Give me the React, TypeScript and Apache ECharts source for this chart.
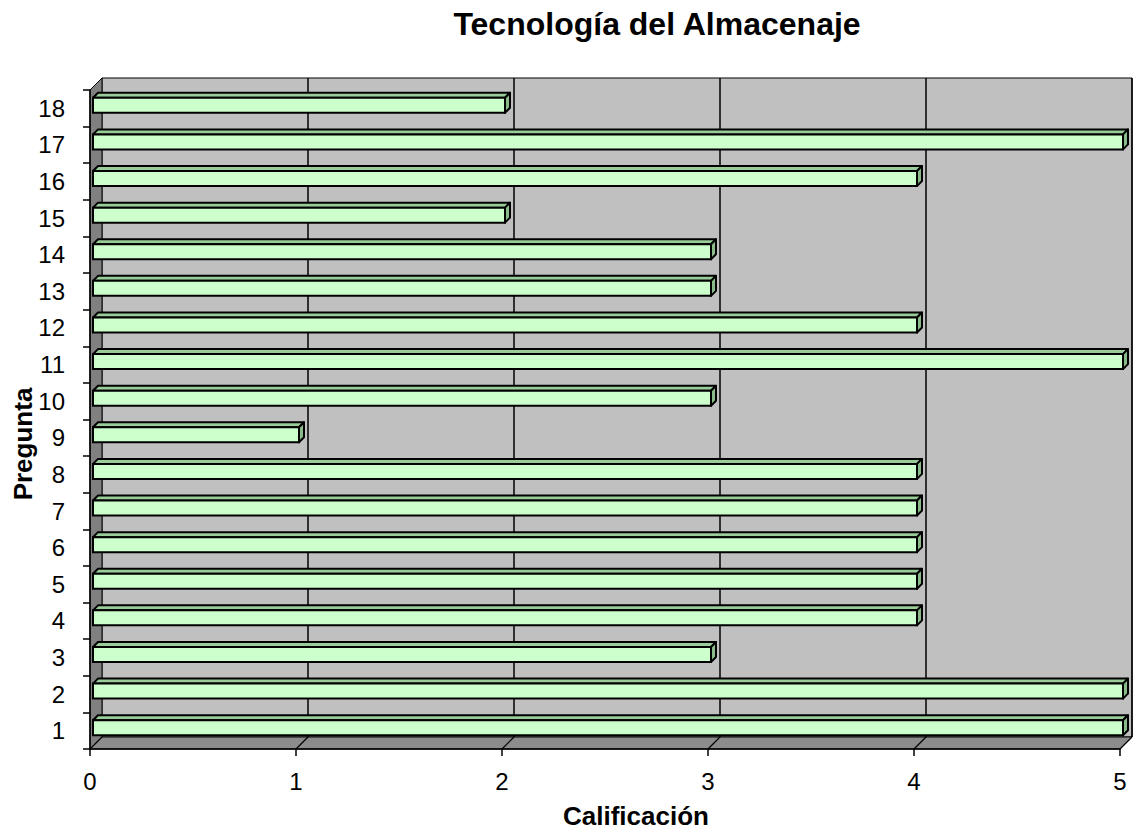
import React, { useEffect, useRef } from "react";
import * as echarts from "echarts";

const categories = ["1","2","3","4","5","6","7","8","9","10","11","12","13","14","15","16","17","18"];
const scores = [5, 5, 3, 4, 4, 4, 4, 4, 1, 3, 5, 4, 3, 3, 2, 4, 5, 2];
const xTicks = [0, 1, 2, 3, 4, 5];
const titleText = "Tecnología del Almacenaje";
const xName = "Calificación";
const yName = "Pregunta";

const FONT = "'Liberation Sans', Arial, sans-serif";
const DX = 12;
const DY = -12;

export default function App() {
  const ref = useRef<HTMLDivElement>(null);
  useEffect(() => {
    if (!ref.current) return;
    const chart = echarts.init(ref.current, null, { renderer: "svg" });
    const barData = scores.map((v, i) => [v, i]);
    chart.setOption({
      animation: false,
      backgroundColor: "#ffffff",
      textStyle: { fontFamily: FONT },
      grid: { left: 90, top: 90, right: 13, bottom: 81 },
      xAxis: {
        type: "value",
        min: 0,
        max: 5,
        interval: 1,
        z: 5,
        axisLine: { show: true, lineStyle: { color: "#000", width: 1.5 } },
        axisTick: { show: true, length: 7, lineStyle: { color: "#000", width: 1.5 } },
        axisLabel: { fontSize: 24, color: "#000", margin: 20, fontFamily: FONT },
        splitLine: { show: false },
      },
      yAxis: {
        type: "category",
        data: categories,
        z: 5,
        axisLine: { show: true, lineStyle: { color: "#000", width: 1.5 } },
        axisTick: { show: true, length: 7, lineStyle: { color: "#000", width: 1.5 } },
        axisLabel: { fontSize: 24, color: "#000", margin: 25, fontFamily: FONT },
        splitLine: { show: false },
      },
      graphic: [
        {
          type: "text",
          x: 657,
          y: 24,
          style: {
            text: titleText,
            fontSize: 32,
            fontWeight: "bold",
            fontFamily: FONT,
            fill: "#000",
            align: "center",
            verticalAlign: "middle",
          },
        },
        {
          type: "text",
          x: 636,
          y: 816,
          style: {
            text: xName,
            fontSize: 26,
            fontWeight: "bold",
            fontFamily: FONT,
            fill: "#000",
            align: "center",
            verticalAlign: "middle",
          },
        },
        {
          type: "text",
          x: 23,
          y: 444,
          rotation: Math.PI / 2,
          style: {
            text: yName,
            fontSize: 26,
            fontWeight: "bold",
            fontFamily: FONT,
            fill: "#000",
            align: "center",
            verticalAlign: "middle",
          },
        },
      ],
      series: [
        {
          type: "custom",
          z: 1,
          silent: true,
          data: [[0, 0]],
          renderItem: (params: any, api: any) => {
            const cs = params.coordSys;
            const x = cs.x, y = cs.y, w = cs.width, h = cs.height;
            const children: any[] = [];
            children.push({
              type: "rect",
              shape: { x: x + DX, y: y + DY, width: w, height: h },
              style: { fill: "#C0C0C0", stroke: "#000", lineWidth: 1 },
            });
            children.push({
              type: "polygon",
              shape: { points: [[x, y], [x + DX, y + DY], [x + DX, y + h + DY], [x, y + h]] },
              style: { fill: "#808080", stroke: "#000", lineWidth: 1 },
            });
            children.push({
              type: "polygon",
              shape: { points: [[x, y + h], [x + DX, y + h + DY], [x + w + DX, y + h + DY], [x + w, y + h]] },
              style: { fill: "#8C8C8C", stroke: "#000", lineWidth: 1 },
            });
            xTicks.forEach((t) => {
              const px = api.coord([t, 0])[0];
              if (t > 0) {
                children.push({
                  type: "line",
                  shape: { x1: px + DX, y1: y + DY, x2: px + DX, y2: y + h + DY },
                  style: { stroke: "#000", lineWidth: 1.5 },
                });
              }
              children.push({
                type: "line",
                shape: { x1: px, y1: y + h, x2: px + DX, y2: y + h + DY },
                style: { stroke: "#000", lineWidth: 1.2 },
              });
            });
            return { type: "group", children };
          },
        },
        {
          type: "custom",
          z: 3,
          data: barData,
          encode: { x: 0, y: 1 },
          renderItem: (params: any, api: any) => {
            const v = api.value(0);
            const c = api.value(1);
            const p0 = api.coord([0, c]);
            const p1 = api.coord([v, c]);
            const bh = 15;
            const d = 5;
            const x0 = p0[0] + 3;
            const x1 = p1[0] + 3;
            const top = p0[1] - 3 - bh / 2;
            return {
              type: "group",
              children: [
                {
                  type: "polygon",
                  shape: { points: [[x0, top], [x0 + d, top - d], [x1 + d, top - d], [x1, top]] },
                  style: { fill: "#99CC99", stroke: "#000", lineWidth: 2, lineJoin: "round" },
                },
                {
                  type: "polygon",
                  shape: { points: [[x1, top], [x1 + d, top - d], [x1 + d, top - d + bh], [x1, top + bh]] },
                  style: { fill: "#88BB88", stroke: "#000", lineWidth: 2, lineJoin: "round" },
                },
                {
                  type: "rect",
                  shape: { x: x0, y: top, width: x1 - x0, height: bh },
                  style: { fill: "#CCFFCC", stroke: "#000", lineWidth: 2 },
                },
              ],
            };
          },
        },
      ],
    });
    return () => chart.dispose();
  }, []);
  return (
    <div
      ref={ref}
      style={{ position: "absolute", left: 0, top: 0, width: 1133, height: 830 }}
    />
  );
}
